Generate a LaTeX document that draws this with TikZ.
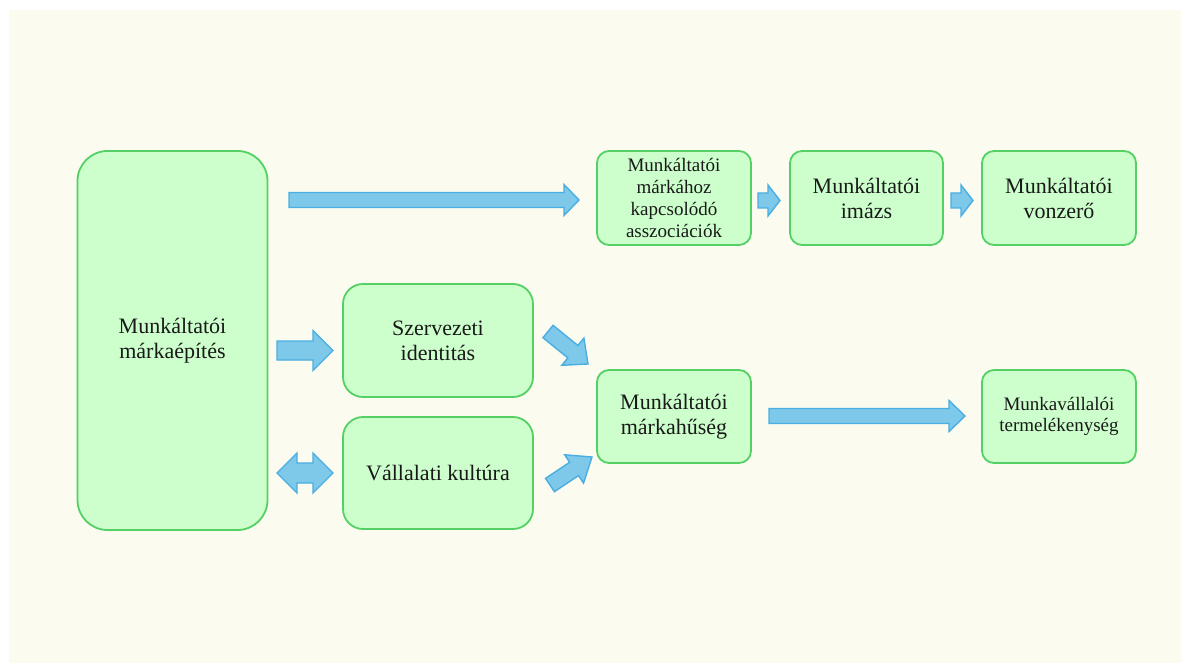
\documentclass[tikz,border=0pt]{standalone}
\usepackage{fontspec}
\setmainfont{Liberation Serif}
\usetikzlibrary{calc}
\definecolor{bgc}{HTML}{FBFBF0}
\definecolor{boxfill}{HTML}{CCFFCC}
\definecolor{boxline}{HTML}{55D065}
\definecolor{arrfill}{HTML}{7EC8EA}
\definecolor{arrline}{HTML}{4AAEE3}
\tikzset{
  box/.style={draw=boxline, fill=boxfill, line width=1.8pt, rounded corners=12pt,
    align=center, inner sep=2pt, text=black!90,
    font=\fontsize{22}{25}\selectfont},
  smalltext/.style={font=\fontsize{19}{21.7}\selectfont},
  blk/.style={draw=arrline, fill=arrfill, line width=1.4pt, line join=miter},
}
% block arrow: #1 start, #2 tip, #3 shaft half width, #4 head half width, #5 head length
\newcommand\barrow[5]{%
  \coordinate (bh) at ($(#2)!#5!(#1)$);
  \draw[blk] ($(#1)!#3!90:(#2)$) -- ($(bh)!#3!90:(#2)$) -- ($(bh)!#4!90:(#2)$) -- (#2)
    -- ($(bh)!#4!-90:(#2)$) -- ($(bh)!#3!-90:(#2)$) -- ($(#1)!#3!-90:(#2)$) -- cycle;
}
% double block arrow
\newcommand\dbarrow[5]{%
  \coordinate (bh) at ($(#2)!#5!(#1)$);
  \coordinate (bt) at ($(#1)!#5!(#2)$);
  \draw[blk] (#1) -- ($(bt)!#4!-90:(#1)$) -- ($(bt)!#3!-90:(#1)$) -- ($(bh)!#3!90:(#2)$)
    -- ($(bh)!#4!90:(#2)$) -- (#2) -- ($(bh)!#4!-90:(#2)$) -- ($(bh)!#3!-90:(#2)$)
    -- ($(bt)!#3!90:(#1)$) -- ($(bt)!#4!90:(#1)$) -- cycle;
}
\begin{document}
\begin{tikzpicture}[x=1pt,y=-1pt]
\useasboundingbox (0,0) rectangle (1181,663);
\fill[bgc] (9,10) rectangle (1181,663);

\node[box, rounded corners=30pt, minimum width=190pt, minimum height=379pt] (mep) at (172.5,340.5) {Munkáltatói\\márkaépítés};
\node[box, smalltext, minimum width=154pt, minimum height=94pt] (asz) at (674,198) {Munkáltatói\\márkához\\kapcsolódó\\asszociációk};
\node[box, minimum width=153pt, minimum height=94pt] (imazs) at (866.5,198) {Munkáltatói\\imázs};
\node[box, minimum width=154pt, minimum height=94pt] (vonz) at (1059,198) {Munkáltatói\\vonzerő};
\node[box, rounded corners=20pt, minimum width=190pt, minimum height=113pt] (szerv) at (438,340.5) {Szervezeti\\identitás};
\node[box, rounded corners=20pt, minimum width=190pt, minimum height=112pt] (vall) at (438,473) {Vállalati kultúra};
\node[box, minimum width=154pt, minimum height=93pt] (hus) at (674,416.5) {Munkáltatói\\márkahűség};
\node[box, smalltext, minimum width=154pt, minimum height=93pt] (term) at (1059,416.5) {Munkavállalói\\termelékenység};

\coordinate (a1s) at (289,200);   \coordinate (a1e) at (579,200);
\coordinate (a2s) at (758,200.5); \coordinate (a2e) at (780,200.5);
\coordinate (a3s) at (951,200.5); \coordinate (a3e) at (973,200.5);
\coordinate (a4s) at (277,350.5); \coordinate (a4e) at (333,350.5);
\coordinate (a5s) at (277,473);   \coordinate (a5e) at (333,473);
\coordinate (a6s) at (548,331.5); \coordinate (a6e) at (588,364);
\coordinate (a7s) at (550,485);   \coordinate (a7e) at (592,457);
\coordinate (a8s) at (769,416);   \coordinate (a8e) at (965,416);

\barrow{a1s}{a1e}{7.5pt}{15.5pt}{15pt}
\barrow{a2s}{a2e}{7.5pt}{15.5pt}{12pt}
\barrow{a3s}{a3e}{7.5pt}{15.5pt}{12pt}
\barrow{a4s}{a4e}{9.5pt}{20pt}{20pt}
\dbarrow{a5s}{a5e}{10pt}{20pt}{20pt}
\barrow{a6s}{a6e}{8pt}{17.5pt}{19.5pt}
\barrow{a7s}{a7e}{8pt}{17pt}{21.5pt}
\barrow{a8s}{a8e}{7.5pt}{15.5pt}{16pt}
\end{tikzpicture}
\end{document}
